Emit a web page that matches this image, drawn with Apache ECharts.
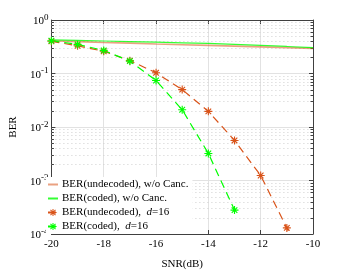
<!DOCTYPE html>
<html>
<head>
<meta charset="utf-8">
<script src="https://cdn.jsdelivr.net/npm/echarts@6/dist/echarts.min.js"></script>
<style>html,body{margin:0;padding:0;background:#fff}#c{width:346px;height:275px}</style>
</head>
<body>
<div id="c"></div>
<script>
const snr = [-20, -19, -18, -17, -16, -15, -14, -13, -12, -11, -10];
const berUndecodedNoCanc = [0.41, 0.395, 0.38, 0.37, 0.355, 0.345, 0.335, 0.325, 0.315, 0.305, 0.295];
const berCodedNoCanc = [0.425, 0.415, 0.405, 0.395, 0.385, 0.375, 0.365, 0.35, 0.335, 0.32, 0.305];
const berUndecodedD16 = [0.40, 0.33, 0.26, 0.174, 0.103, 0.05, 0.0196, 0.0056, 0.00124, 0.00013, 0.000012];
const berCodedD16 = [0.41, 0.35, 0.27, 0.17, 0.074, 0.021, 0.0032, 0.00028];
const xTickValues = [-20, -18, -16, -14, -12, -10];
const yTickExponents = [0, -1, -2, -3, -4];
const minorMultipliers = [2, 3, 4, 5, 6, 7, 8, 9];
const seriesNames = [
  'BER(undecoded), w/o Canc.',
  'BER(coded), w/o Canc.',
  'BER(undecoded), d=16',
  'BER(coded), d=16'
];

const FONT = 'Liberation Serif';
const ORANGE = '#D95319';
const GREEN = '#00FF00';
const AXIS = '#404040';
const GRID = '#e2e2e2';
const STAR = 'path://M0,4.3L10,4.3L10,5.7L0,5.7Z M4.3,0L5.7,0L5.7,10L4.3,10Z M1,2L2,1L9,8L8,9Z M8,1L9,2L2,9L1,8Z';

function zip(xs, ys) { return ys.map((v, i) => [xs[i], v]); }

const decadeBases = yTickExponents.slice(0, -1).map(e => Math.pow(10, e - 1));
const minorValues = [];
decadeBases.forEach(b => minorMultipliers.forEach(m => minorValues.push(m * b)));

const chart = echarts.init(document.getElementById('c'), null, {renderer: 'canvas'});
const yLabel = {
  fontFamily: FONT, color: '#000', fontSize: 11, margin: 3,
  formatter: v => {
    const e = Math.round(Math.log10(v));
    return '{b|10}{s|' + e + '}';
  },
  rich: {
    b: {fontFamily: FONT, fontSize: 11, color: '#000', verticalAlign: 'bottom', lineHeight: 14},
    s: {fontFamily: FONT, fontSize: 9, color: '#000', verticalAlign: 'top', lineHeight: 9}
  }
};

chart.setOption({
  animation: false,
  backgroundColor: '#fff',
  grid: {left: 45, right: 33, top: 20, bottom: 31, containLabel: false},
  xAxis: [{
    type: 'value', min: -20, max: -10, interval: 2,
    name: 'SNR(dB)', nameLocation: 'middle', nameGap: 25,
    nameTextStyle: {fontFamily: FONT, fontSize: 11, color: '#000'},
    axisLine: {show: true, lineStyle: {color: AXIS, width: 1}},
    axisTick: {show: true, inside: true, length: 4, lineStyle: {color: AXIS}},
    axisLabel: {fontFamily: FONT, fontSize: 11, color: '#000', margin: 5},
    splitLine: {show: true, lineStyle: {color: GRID, width: 1}}
  }, {
    type: 'value', position: 'top', min: -20, max: -10, interval: 2,
    axisLine: {show: true, lineStyle: {color: AXIS, width: 1}},
    axisTick: {show: true, inside: true, length: 4, lineStyle: {color: AXIS}},
    axisLabel: {show: false}, splitLine: {show: false}
  }],
  yAxis: [{
    type: 'log', logBase: 10, min: 1e-4, max: 1,
    name: 'BER', nameLocation: 'middle', nameGap: 25,
    nameTextStyle: {fontFamily: FONT, fontSize: 11, color: '#000'},
    axisLine: {show: true, lineStyle: {color: AXIS, width: 1}},
    axisTick: {show: true, inside: true, length: 4, lineStyle: {color: AXIS}},
    axisLabel: yLabel,
    splitLine: {show: true, lineStyle: {color: GRID, width: 1}}
  }, {
    type: 'log', logBase: 10, min: 1e-4, max: 1, position: 'right',
    axisLine: {show: true, lineStyle: {color: AXIS, width: 1}},
    axisTick: {show: true, inside: true, length: 4, lineStyle: {color: AXIS}},
    axisLabel: {show: false}, splitLine: {show: false}
  }],
  legend: {
    data: [
      {name: seriesNames[0], itemStyle: {opacity: 0}},
      {name: seriesNames[1], itemStyle: {opacity: 0}},
      {name: seriesNames[2]},
      {name: seriesNames[3]}
    ],
    orient: 'vertical', left: 46, top: 177,
    backgroundColor: '#fff', padding: [2, 4, 2, 1],
    itemWidth: 10, itemHeight: 9, itemGap: 3,
    textStyle: {
      fontFamily: FONT, fontSize: 11, color: '#000', lineHeight: 11, padding: [0, 0, 0, -1],
      rich: {
        n: {fontFamily: FONT, fontSize: 11, color: '#000'},
        i: {fontFamily: FONT, fontSize: 11, color: '#000', fontStyle: 'italic'}
      }
    },
    formatter: name => {
      if (name.indexOf('d=16') >= 0) {
        return '{n|' + name.replace('d=16', '') + ' }{i|d}{n|=16}';
      }
      return '{n|' + name + '}';
    }
  },
  series: [
    {
      type: 'custom', silent: true, z: 1,
      data: minorValues.map(v => [-20, v]),
      encode: {x: 0, y: 1},
      renderItem: (params, api) => {
        const y = Math.round(api.coord([api.value(0), api.value(1)])[1]) + 0.5;
        const cs = params.coordSys;
        return {type: 'group', children: [
          {type: 'line', shape: {x1: cs.x, y1: y, x2: cs.x + cs.width, y2: y},
           style: {stroke: '#cfcfcf', lineWidth: 1, lineDash: [1, 3]}},
          {type: 'line', shape: {x1: cs.x, y1: y, x2: cs.x + 2.5, y2: y},
           style: {stroke: AXIS, lineWidth: 1}},
          {type: 'line', shape: {x1: cs.x + cs.width - 2.5, y1: y, x2: cs.x + cs.width, y2: y},
           style: {stroke: AXIS, lineWidth: 1}}
        ]};
      }
    },
    {
      name: seriesNames[0], type: 'line', data: zip(snr, berUndecodedNoCanc),
      symbol: 'none', z: 3,
      lineStyle: {color: ORANGE, width: 1.6, opacity: 0.55}, itemStyle: {color: ORANGE}
    },
    {
      name: seriesNames[1], type: 'line', data: zip(snr, berCodedNoCanc),
      symbol: 'none', z: 3,
      lineStyle: {color: GREEN, width: 1.2, opacity: 0.8}, itemStyle: {color: GREEN}
    },
    {
      name: seriesNames[2], type: 'line', data: zip(snr, berUndecodedD16),
      symbol: STAR, symbolSize: 8, showAllSymbol: true, z: 4,
      lineStyle: {color: ORANGE, width: 1.2, type: [8, 5]},
      itemStyle: {color: ORANGE}
    },
    {
      name: seriesNames[3], type: 'line', data: zip(snr, berCodedD16),
      symbol: STAR, symbolSize: 8, showAllSymbol: true, z: 4,
      lineStyle: {color: GREEN, width: 1.2, type: [8, 5]},
      itemStyle: {color: GREEN}
    }
  ]
});
</script>
</body>
</html>
